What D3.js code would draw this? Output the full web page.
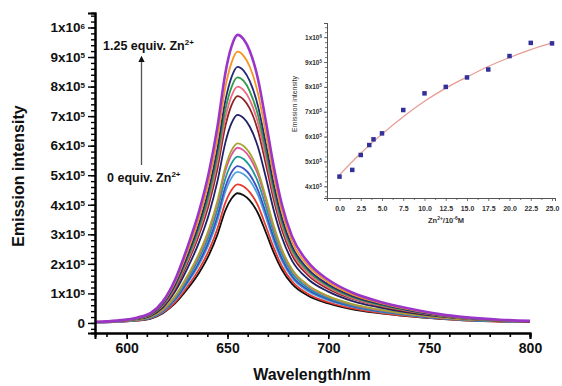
<!DOCTYPE html>
<html>
<head>
<meta charset="utf-8">
<script src="https://cdn.jsdelivr.net/npm/d3@7"></script>
<style>
  body { margin: 0; background: #fff; }
  svg { display: block; font-family: "Liberation Sans", Arial, sans-serif; }
</style>
</head>
<body>
<svg id="chart" width="562" height="386"></svg>
<script>
// wavelengths (nm) shared by every spectrum
const wavelengths = [585, 595, 605, 612, 618, 624, 630, 636, 641, 645, 649, 652, 655, 658, 661, 665, 669, 673, 677, 682, 690, 700, 712, 725, 740, 755, 770, 785, 800];

// emission intensity, in units of 1x10^5, bottom curve (0 equiv.) to top (1.25 equiv.)
const spec00 = [0.02, 0.04, 0.08, 0.15, 0.33, 0.66, 1.14, 1.71, 2.33, 2.99, 3.82, 4.21, 4.39, 4.32, 4.15, 3.73, 3.07, 2.37, 1.80, 1.32, 0.92, 0.66, 0.46, 0.33, 0.22, 0.14, 0.08, 0.05, 0.03];
const spec01 = [0.02, 0.04, 0.08, 0.16, 0.35, 0.70, 1.22, 1.83, 2.49, 3.19, 4.08, 4.50, 4.69, 4.62, 4.43, 3.99, 3.28, 2.53, 1.92, 1.41, 0.98, 0.70, 0.49, 0.35, 0.23, 0.15, 0.08, 0.05, 0.03];
const spec02 = [0.02, 0.04, 0.09, 0.18, 0.38, 0.77, 1.33, 1.99, 2.71, 3.47, 4.45, 4.91, 5.11, 5.03, 4.83, 4.34, 3.58, 2.76, 2.10, 1.53, 1.07, 0.77, 0.54, 0.38, 0.26, 0.16, 0.09, 0.06, 0.04];
const spec03 = [0.02, 0.04, 0.10, 0.19, 0.40, 0.80, 1.38, 2.07, 2.81, 3.61, 4.62, 5.10, 5.31, 5.23, 5.02, 4.51, 3.72, 2.87, 2.18, 1.59, 1.12, 0.80, 0.56, 0.40, 0.27, 0.16, 0.10, 0.06, 0.04];
const spec04 = [0.02, 0.05, 0.10, 0.20, 0.42, 0.84, 1.46, 2.20, 2.98, 3.83, 4.90, 5.40, 5.63, 5.55, 5.32, 4.79, 3.94, 3.04, 2.31, 1.69, 1.18, 0.84, 0.59, 0.42, 0.28, 0.17, 0.10, 0.06, 0.04];
const spec05 = [0.02, 0.05, 0.11, 0.21, 0.44, 0.89, 1.54, 2.31, 3.14, 4.03, 5.16, 5.69, 5.93, 5.84, 5.60, 5.04, 4.15, 3.20, 2.43, 1.78, 1.25, 0.89, 0.62, 0.44, 0.30, 0.18, 0.11, 0.07, 0.04];
const spec06 = [0.02, 0.05, 0.11, 0.21, 0.46, 0.91, 1.58, 2.37, 3.22, 4.13, 5.29, 5.84, 6.08, 5.99, 5.75, 5.17, 4.26, 3.28, 2.49, 1.82, 1.28, 0.91, 0.64, 0.46, 0.30, 0.19, 0.11, 0.07, 0.04];
const spec07 = [0.03, 0.06, 0.13, 0.25, 0.53, 1.06, 1.83, 2.75, 3.73, 4.79, 6.12, 6.76, 7.04, 6.93, 6.65, 5.98, 4.93, 3.80, 2.89, 2.11, 1.48, 1.06, 0.74, 0.53, 0.35, 0.22, 0.13, 0.08, 0.05];
const spec08 = [0.03, 0.06, 0.14, 0.27, 0.58, 1.15, 2.00, 3.00, 4.07, 5.22, 6.68, 7.37, 7.68, 7.56, 7.26, 6.53, 5.38, 4.15, 3.15, 2.30, 1.61, 1.15, 0.81, 0.58, 0.38, 0.24, 0.14, 0.08, 0.05];
const spec09 = [0.03, 0.06, 0.14, 0.28, 0.60, 1.20, 2.08, 3.12, 4.24, 5.44, 6.96, 7.68, 8.00, 7.88, 7.56, 6.80, 5.60, 4.32, 3.28, 2.40, 1.68, 1.20, 0.84, 0.60, 0.40, 0.25, 0.14, 0.09, 0.06];
const spec10 = [0.03, 0.07, 0.15, 0.29, 0.62, 1.25, 2.16, 3.24, 4.40, 5.65, 7.23, 7.98, 8.31, 8.19, 7.85, 7.06, 5.82, 4.49, 3.41, 2.49, 1.75, 1.25, 0.87, 0.62, 0.42, 0.26, 0.15, 0.09, 0.06];
const spec11 = [0.03, 0.07, 0.16, 0.30, 0.65, 1.30, 2.25, 3.38, 4.60, 5.90, 7.54, 8.32, 8.67, 8.54, 8.19, 7.37, 6.07, 4.68, 3.55, 2.60, 1.82, 1.30, 0.91, 0.65, 0.43, 0.27, 0.16, 0.10, 0.06];
const spec12 = [0.04, 0.07, 0.17, 0.32, 0.69, 1.38, 2.39, 3.58, 4.87, 6.24, 7.99, 8.81, 9.18, 9.04, 8.68, 7.80, 6.43, 4.96, 3.76, 2.75, 1.93, 1.38, 0.96, 0.69, 0.46, 0.28, 0.17, 0.10, 0.06];
const spec13 = [0.04, 0.08, 0.18, 0.34, 0.73, 1.46, 2.54, 3.80, 5.17, 6.63, 8.48, 9.36, 9.75, 9.60, 9.21, 8.29, 6.83, 5.27, 4.00, 2.93, 2.05, 1.46, 1.02, 0.73, 0.49, 0.30, 0.18, 0.11, 0.07];

const spectra = [spec00, spec01, spec02, spec03, spec04, spec05, spec06, spec07, spec08, spec09, spec10, spec11, spec12, spec13];
const specColors = ["#111111", "#e8392e", "#4fa3dd", "#3d4fc4", "#1b9a99", "#e0559e", "#a4a52c", "#1f2266", "#8e2424", "#ef6a86", "#2f9a48", "#262a74", "#f7941f", "#9b35c8"];

const xTicks = [600, 650, 700, 750, 800];
const yTicks = [0, 1, 2, 3, 4, 5, 6, 7, 8, 9, 10];
const yTickLabels = ["0", "1x10^5", "2x10^5", "3x10^5", "4x10^5", "5x10^5", "6x10^5", "7x10^5", "8x10^5", "9x10^5", "1x10^6"];

// inset: Zn2+ concentration (10^-6 M) vs peak intensity (1x10^5)
const znConc = [0.0, 1.5, 2.5, 3.5, 4.0, 5.0, 7.5, 10.0, 12.5, 15.0, 17.5, 20.0, 22.5, 25.0];
const peakIntensity = [4.39, 4.66, 5.26, 5.66, 5.89, 6.13, 7.07, 7.74, 8.00, 8.38, 8.70, 9.24, 9.77, 9.75];
const fitConc = [0, 2.5, 5, 7.5, 10, 12.5, 15, 17.5, 20, 22.5, 25];
const fitIntensity = [4.46, 5.33, 6.10, 6.80, 7.42, 7.95, 8.40, 8.82, 9.18, 9.50, 9.77];
const insetXTicks = [0, 2.5, 5, 7.5, 10, 12.5, 15, 17.5, 20, 22.5, 25];
const insetYTicks = [4, 5, 6, 7, 8, 9, 10];
const insetYTickLabels = ["4x10^5", "5x10^5", "6x10^5", "7x10^5", "8x10^5", "9x10^5", "1x10^6"];

const svg = d3.select("#chart");

const x = d3.scaleLinear().domain([584.3, 800]).range([95, 530]);
const y = d3.scaleLinear().domain([-0.34, 10.49]).range([333, 13]);

// write "1x10^5" as text with a raised exponent
function powLabel(sel, label, supSize) {
  const parts = label.split("^");
  sel.append("tspan").text(parts[0]);
  if (parts.length > 1) {
    sel.append("tspan").attr("dy", "-0.45em").style("font-size", supSize).text(parts[1]);
  }
}

// spectra
const line = d3.line()
  .x((d, i) => x(wavelengths[i]))
  .y(d => y(d))
  .curve(d3.curveMonotoneX);

svg.append("g").selectAll("path")
  .data(spectra)
  .enter().append("path")
  .attr("d", d => line(d))
  .attr("fill", "none")
  .attr("stroke", (d, i) => specColors[i])
  .attr("stroke-width", (d, i) => i === spectra.length - 1 ? 2.6 : 1.8)
  .attr("stroke-linejoin", "round");

// main axes
const xAxis = svg.append("g")
  .attr("transform", "translate(0," + 333 + ")")
  .call(d3.axisBottom(x).tickValues(d3.range(590, 801, 10)).tickSize(4).tickFormat(""));
const xMajor = svg.append("g")
  .attr("transform", "translate(0," + 333 + ")")
  .call(d3.axisBottom(x).tickValues(xTicks).tickSize(6).tickPadding(4).tickFormat(d3.format("d")));
[xAxis, xMajor].forEach(g => {
  g.select(".domain").attr("stroke", "#000").attr("stroke-width", 2);
  g.selectAll(".tick line").attr("stroke", "#000").attr("stroke-width", 1.6);
});
xMajor.selectAll(".tick text")
  .attr("fill", "#111")
  .style("font-size", "14px")
  .style("font-weight", "bold");

const yMinor = svg.append("g")
  .attr("transform", "translate(95,0)")
  .call(d3.axisLeft(y).tickValues(d3.range(-0.2, 10.5, 0.2)).tickSize(4).tickFormat(""));
const yMajor = svg.append("g")
  .attr("transform", "translate(95,0)")
  .call(d3.axisLeft(y).tickValues(yTicks).tickSize(7).tickPadding(3).tickFormat(""));
[yMinor, yMajor].forEach(g => {
  g.select(".domain").attr("stroke", "#000").attr("stroke-width", 2);
  g.selectAll(".tick line").attr("stroke", "#000").attr("stroke-width", 1.4);
});
yMajor.selectAll(".tick text")
  .attr("fill", "#111")
  .style("font-size", "13.5px")
  .style("font-weight", "bold")
  .each(function(d, i) { powLabel(d3.select(this), yTickLabels[i], "8px"); });

svg.append("text")
  .attr("transform", "translate(24,176) rotate(-90)")
  .attr("text-anchor", "middle")
  .style("font-size", "16px")
  .style("font-weight", "bold")
  .attr("fill", "#111")
  .text("Emission intensity");

svg.append("text")
  .attr("x", 312)
  .attr("y", 380)
  .attr("text-anchor", "middle")
  .style("font-size", "16px")
  .style("font-weight", "bold")
  .attr("fill", "#111")
  .text("Wavelength/nm");

// annotation arrow
svg.append("defs").append("marker")
  .attr("id", "head")
  .attr("viewBox", "0 0 10 10")
  .attr("refX", 5).attr("refY", 5)
  .attr("markerWidth", 5).attr("markerHeight", 5)
  .attr("orient", "auto")
  .append("path").attr("d", "M0,0 L10,5 L0,10 z").attr("fill", "#111");

svg.append("line")
  .attr("x1", 141.5).attr("y1", 165)
  .attr("x2", 141.5).attr("y2", 59)
  .attr("stroke", "#555")
  .attr("stroke-width", 1.3)
  .attr("marker-end", "url(#head)");

const topNote = svg.append("text")
  .attr("x", 103).attr("y", 50)
  .style("font-size", "12.5px").style("font-weight", "bold").attr("fill", "#111");
topNote.append("tspan").text("1.25 equiv. Zn");
topNote.append("tspan").attr("dy", -5).style("font-size", "8px").text("2+");

const bottomNote = svg.append("text")
  .attr("x", 107).attr("y", 182)
  .style("font-size", "12.5px").style("font-weight", "bold").attr("fill", "#111");
bottomNote.append("tspan").text("0 equiv. Zn");
bottomNote.append("tspan").attr("dy", -5).style("font-size", "8px").text("2+");

// inset
const ix = d3.scaleLinear().domain([-1.47, 25.35]).range([327, 555]);
const iy = d3.scaleLinear().domain([3.53, 10.57]).range([198, 23]);

const ixAxis = svg.append("g")
  .attr("transform", "translate(0,198)")
  .call(d3.axisBottom(ix).tickValues(insetXTicks).tickSize(3).tickPadding(5).tickFormat(d3.format(".1f")));
const ixMinor = svg.append("g")
  .attr("transform", "translate(0,198)")
  .call(d3.axisBottom(ix).tickValues(d3.range(1.25, 25, 2.5)).tickSize(2).tickFormat(""));
const iyAxis = svg.append("g")
  .attr("transform", "translate(327,0)")
  .call(d3.axisLeft(iy).tickValues(insetYTicks).tickSize(3).tickPadding(2).tickFormat(""));
const iyMinor = svg.append("g")
  .attr("transform", "translate(327,0)")
  .call(d3.axisLeft(iy).tickValues(d3.range(3.6, 10.6, 0.2)).tickSize(2).tickFormat(""));
[ixAxis, ixMinor, iyAxis, iyMinor].forEach(g => {
  g.select(".domain").attr("stroke", "#555").attr("stroke-width", 1);
  g.selectAll(".tick line").attr("stroke", "#555").attr("stroke-width", 0.8);
});
ixAxis.selectAll(".tick text")
  .attr("fill", "#333").style("font-size", "7px").style("font-weight", "bold");
iyAxis.selectAll(".tick text")
  .attr("fill", "#333").style("font-size", "6.5px").style("font-weight", "bold")
  .each(function(d, i) { powLabel(d3.select(this), insetYTickLabels[i], "4.5px"); });

svg.append("text")
  .attr("transform", "translate(297,104) rotate(-90)")
  .attr("text-anchor", "middle")
  .style("font-size", "7px")
  .attr("fill", "#333")
  .text("Emission intensity");

const ixTitle = svg.append("text")
  .attr("x", 446).attr("y", 223)
  .attr("text-anchor", "middle")
  .style("font-size", "7.5px").style("font-weight", "bold").attr("fill", "#333");
ixTitle.append("tspan").text("Zn");
ixTitle.append("tspan").attr("dy", -3).style("font-size", "5px").text("2+");
ixTitle.append("tspan").attr("dy", 3).text("/10");
ixTitle.append("tspan").attr("dy", -3).style("font-size", "5px").text("-6");
ixTitle.append("tspan").attr("dy", 3).text("M");

const fitLine = d3.line()
  .x((d, i) => ix(fitConc[i]))
  .y(d => iy(d))
  .curve(d3.curveMonotoneX);

svg.append("path")
  .attr("d", fitLine(fitIntensity))
  .attr("fill", "none")
  .attr("stroke", "#e79b92")
  .attr("stroke-width", 1.2);

svg.append("g").selectAll("rect")
  .data(peakIntensity)
  .enter().append("rect")
  .attr("x", (d, i) => ix(znConc[i]) - 2.25)
  .attr("y", d => iy(d) - 2.25)
  .attr("width", 4.5)
  .attr("height", 4.5)
  .attr("fill", "#33309a");
</script>
</body>
</html>
